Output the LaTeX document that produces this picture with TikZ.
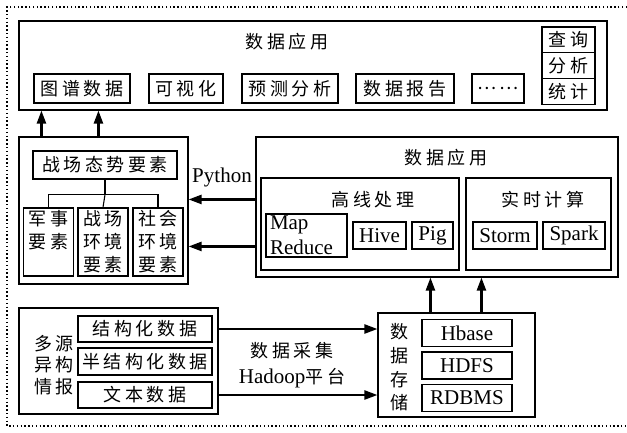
\documentclass[tikz,border=0pt]{standalone}
\usepackage{fontspec}
\setmainfont{Liberation Serif}
\newfontfamily\cjk[LetterSpace=20]{Noto Sans CJK SC}
\usetikzlibrary{arrows.meta,calc}

\newcommand\zh{\fontsize{18}{23}\selectfont\cjk}
\newcommand\en{\fontsize{21}{25}\selectfont\rmfamily}

\begin{document}
\begin{tikzpicture}[x=1pt, y=-1pt,
  box/.style={draw, line width=1.1pt, inner sep=0pt},
  zhbox/.style={box, font=\zh},
  enbox/.style={box, font=\en},
  arr/.style={line width=2.3pt, -{Triangle[length=13pt,width=9pt]}},
  tree/.style={line width=1.1pt},
  outerframe/.style={line width=1.4pt, dash pattern=on 1.4pt off 2.4pt},
]
\useasboundingbox (0,0) rectangle (627,432);

% dotted frame, open on the right
\draw[outerframe] (627,7) -- (7,7) -- (7,426) -- (627,426);

% application layer
\node[box, minimum width=588pt, minimum height=89pt] (app) at (313,65.5) {};
\node[font=\zh] (appT) at (287,42) {数据应用};
\foreach \x/\w/\t [count=\i] in {82/96/图谱数据, 186/74/可视化, 290/96/预测分析,
    405/98/数据报告, 498/52/……} {
  \node[zhbox, minimum width=\w pt, minimum height=29pt] (r\i) at (\x,88.5) {\t};
}
\foreach \t [count=\i] in {查询,分析,统计} {
  \node[zhbox, minimum width=53pt, minimum height=25.7pt] (q\i) at (568.5,{14.15+25.7*\i}) {\t};
}

% battlefield situation elements
\node[box, minimum width=169pt, minimum height=147pt] (sit) at (103.5,210.5) {};
\node[zhbox, minimum width=144pt, minimum height=28pt] (sitT) at (105,165) {战场态势要素};
\foreach \x/\t [count=\i] in {48.5/军事\\要素\\\phantom{要素}, 103/战场\\环境\\要素, 158/社会\\环境\\要素} {
  \node[zhbox, align=center, minimum width=50pt, minimum height=68pt] (e\i) at (\x,242) {\t};
}
\draw[tree] (sitT.south) -- ++(0,15) coordinate (fork);
\draw[tree] (e1.north) |- (fork) -| (e3.north);
\draw[tree] (fork) -- (e2.north);

\node[font=\en] (py) at (222,177) {Python};

% processing layer
\node[box, minimum width=362pt, minimum height=140pt] (proc) at (437,207) {};
\node[font=\zh] (procT) at (446,158) {数据应用};
\node[box, minimum width=198pt, minimum height=92pt] (batch) at (360,224) {};
\node[font=\zh] (batchT) at (373,200) {高线处理};
\node[enbox, align=left, text width=73pt, minimum width=81pt, minimum height=43pt] (mr) at (306.5,235.5) {Map\\Reduce};
\node[enbox, minimum width=53pt, minimum height=27pt] (hive) at (379.5,235.5) {Hive};
\node[enbox, minimum width=41pt, minimum height=27pt] (pig) at (432.5,235.5) {Pig};
\node[box, minimum width=145pt, minimum height=92pt] (stream) at (538.5,224) {};
\node[font=\zh] (streamT) at (543,200) {实时计算};
\node[enbox, minimum width=64pt, minimum height=27pt] (storm) at (505,235.5) {Storm};
\node[enbox, minimum width=62pt, minimum height=27pt] (spark) at (574,235.5) {Spark};

% storage layer
\node[box, minimum width=157pt, minimum height=104pt] (store) at (456.5,365) {};
\node[font={\fontsize{18}{23.7}\selectfont\cjk}, align=center] (storeT) at (399,367.5) {数\\据\\存\\储};
\foreach \y/\t [count=\i] in {333/Hbase, 365.5/HDFS, 398/RDBMS} {
  \node[enbox, minimum width=90pt, minimum height=27pt] (d\i) at (467,\y) {\t};
}

% multi-source intelligence
\node[box, minimum width=199pt, minimum height=106pt] (src) at (118.5,361) {};
\node[font={\fontsize{18}{21.5}\selectfont\cjk}, align=center] (srcT) at (54,365) {多源\\异构\\情报};
\foreach \y/\h/\t [count=\i] in {329/26/结构化数据, 361.5/27/半结构化数据, 395/26/文本数据} {
  \node[zhbox, minimum width=134pt, minimum height=\h pt] (s\i) at (145,\y) {\t};
}
\node[font={\fontsize{18}{26}\selectfont\cjk}, align=center] (hdp) at (292,365) {数据采集\\{\en Hadoop}平台};

% data flow
\draw[arr] (src.east |- s1) -- (store.west |- s1);
\draw[arr] (src.east |- s3) -- (store.west |- s3);
\draw[arr] ([xshift=53pt]store.north west) -- ([xshift=53pt]store.north west |- proc.south);
\draw[arr] ([xshift=104pt]store.north west) -- ([xshift=104pt]store.north west |- proc.south);
\draw[arr] ([yshift=-63pt]proc.north west) -- ([yshift=-63pt]proc.north west -| sit.east);
\draw[arr] ([yshift=-110pt]proc.north west) -- ([yshift=-110pt]proc.north west -| sit.east);
\draw[arr] ([xshift=23pt]sit.north west) -- ([xshift=23pt]sit.north west |- app.south);
\draw[arr] ([xshift=80pt]sit.north west) -- ([xshift=80pt]sit.north west |- app.south);

\end{tikzpicture}
\end{document}
